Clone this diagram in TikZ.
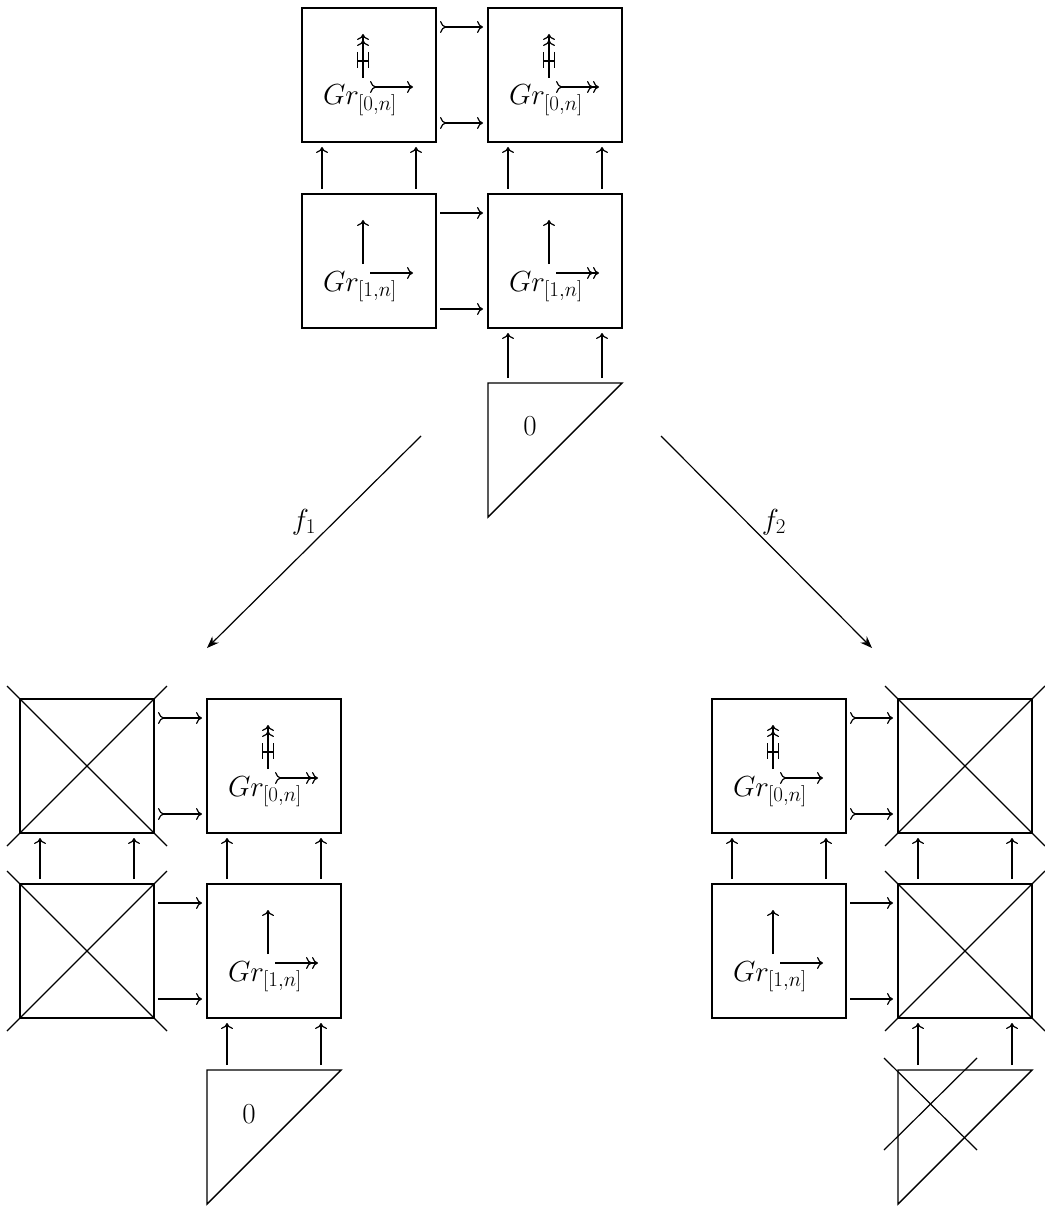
\RequirePackage{fix-cm}
\documentclass[tikz,border=0pt]{standalone}
\usetikzlibrary{arrows.meta}
\DeclareMathSizes{29}{29}{21}{15}
\newcommand\grsym[5]{% node, subscript, vertical style, horizontal style, extra
  \node[anchor=base west] (#1-t) at ([shift={(21,97)}]#1.north west) {$Gr_{[#2]}$};
  \draw[#3] ([shift={(61,70)}]#1.north west) -- ([shift={(61,26)}]#1.north west);
  \draw[#4] ([shift={(68,79)}]#1.north west) -- ([shift={(111,79)}]#1.north west);
  #5}
\newcommand\monobar[1]{%
  \draw ([shift={(55.5,44)}]#1.north west) -- ([shift={(55.5,60)}]#1.north west);
  \draw ([shift={(66.5,44)}]#1.north west) -- ([shift={(66.5,60)}]#1.north west);
  \draw ([shift={(55.5,53)}]#1.north west) -- ([shift={(66.5,53)}]#1.north west);}
\newcommand\hconn[3]{% left, right, style
  \draw[#3] ([shift={(4,19)}]#1.north east) -- ([shift={(-5,19)}]#2.north west);
  \draw[#3] ([shift={(4,-19)}]#1.south east) -- ([shift={(-5,-19)}]#2.south west);}
\newcommand\vconn[2]{% upper, lower
  \draw[->] ([shift={(20,-5)}]#2.north west) -- ([shift={(20,5)}]#1.south west);
  \draw[->] ([shift={(-20,-5)}]#2.north east) -- ([shift={(-20,5)}]#1.south east);}
\newcommand\crossbox[1]{%
  \draw ([shift={(-13,-13)}]#1.north west) -- ([shift={(13,13)}]#1.south east);
  \draw ([shift={(-13,13)}]#1.south west) -- ([shift={(13,-13)}]#1.north east);}
\newcommand\tridraw[1]{\draw[line width=1.4pt] (#1.north west) -- (#1.north east) -- (#1.south west) -- cycle;}
\begin{document}
\begin{tikzpicture}[x=1pt,y=-1pt,
  line width=1.2pt,
  >={To[length=6pt,width=12pt]},
  every node/.style={font=\fontsize{29}{35}\selectfont, inner sep=0pt, outer sep=0pt},
  sq/.style={draw, line width=1.4pt, minimum size=134pt},
  tribox/.style={minimum size=134pt},
  bigarrow/.style={-{Stealth[length=12pt,width=9pt]}},
  mono/.style={>->},
  monoepi/.style={>->>},
  epi/.style={->>},
  plain/.style={->},
]
\useasboundingbox (0,0) rectangle (1044,1206);

% ---------- top group ----------
\node[sq] (A) at (369,75) {};
\node[sq] (B) at (555,75) {};
\node[sq] (C) at (369,261) {};
\node[sq] (D) at (555,261) {};
\node[tribox] (T0) at (555,450) {};
\tridraw{T0}
\node (T0-l) at ([shift={(42,43)}]T0.north west) {$0$};

\grsym{A}{0,n}{epi}{mono}{\monobar{A}}
\grsym{B}{0,n}{epi}{monoepi}{\monobar{B}}
\grsym{C}{1,n}{plain}{plain}{}
\grsym{D}{1,n}{plain}{epi}{}

\hconn{A}{B}{mono}
\hconn{C}{D}{plain}
\vconn{A}{C}
\vconn{B}{D}
\vconn{D}{T0}

% ---------- maps ----------
\coordinate (f1s) at (421,436);
\coordinate (f1e) at (207,648);
\coordinate (f2s) at (661,436);
\coordinate (f2e) at (872,648);
\draw[bigarrow] (f1s) -- (f1e);
\draw[bigarrow] (f2s) -- (f2e);
\node (f1l) at (304,522) {$f_1$};
\node (f2l) at (774,522) {$f_2$};

% ---------- bottom-left group ----------
\node[sq] (E) at (87,766) {};
\node[sq] (F) at (274,766) {};
\node[sq] (G) at (87,951) {};
\node[sq] (H) at (274,951) {};
\node[tribox] (T1) at (274,1137) {};
\tridraw{T1}
\node (T1-l) at ([shift={(42,44)}]T1.north west) {$0$};
\crossbox{E}
\crossbox{G}
\grsym{F}{0,n}{epi}{monoepi}{\monobar{F}}
\grsym{H}{1,n}{plain}{epi}{}
\hconn{E}{F}{mono}
\hconn{G}{H}{plain}
\vconn{E}{G}
\vconn{F}{H}
\vconn{H}{T1}

% ---------- bottom-right group ----------
\node[sq] (I) at (779,766) {};
\node[sq] (J) at (965,766) {};
\node[sq] (K) at (779,951) {};
\node[sq] (L) at (965,951) {};
\node[tribox] (T2) at (965,1137) {};
\tridraw{T2}
\draw ([shift={(-14,-12)}]T2.north west) -- ([shift={(79,80)}]T2.north west);
\draw ([shift={(-14,80)}]T2.north west) -- ([shift={(79,-12)}]T2.north west);
\crossbox{J}
\crossbox{L}
\grsym{I}{0,n}{epi}{mono}{\monobar{I}}
\grsym{K}{1,n}{plain}{plain}{}
\hconn{I}{J}{mono}
\hconn{K}{L}{plain}
\vconn{I}{K}
\vconn{J}{L}
\vconn{L}{T2}
\end{tikzpicture}
\end{document}
